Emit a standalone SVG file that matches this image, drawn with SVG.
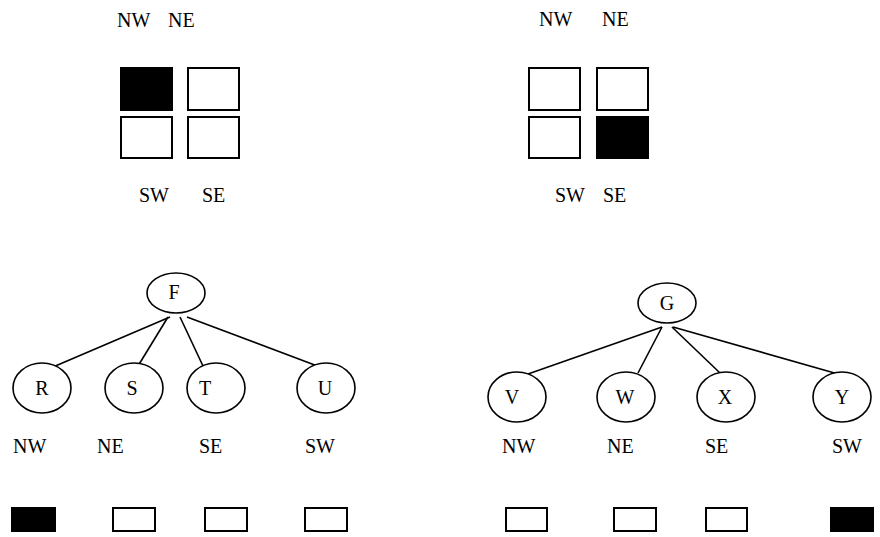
<svg xmlns="http://www.w3.org/2000/svg" width="880" height="537" viewBox="0 0 880 537">
<style>
text{font-family:"Liberation Serif","Times New Roman",serif;font-size:20px;fill:#000}
.c{text-anchor:middle}
.b{fill:#fff;stroke:#000;stroke-width:2}
.f{fill:#000;stroke:#000;stroke-width:2}
ellipse{fill:#fff;stroke:#000;stroke-width:1.6}
line{stroke:#000;stroke-width:1.6}
</style>
<rect width="880" height="537" fill="#fff"/>
<g id="quad-left">
<text x="117" y="27">NW</text><text x="168" y="27">NE</text>
<rect class="f" x="121" y="68" width="51" height="42"/>
<rect class="b" x="188" y="68" width="51" height="42"/>
<rect class="b" x="121" y="117" width="51" height="41"/>
<rect class="b" x="188" y="117" width="51" height="41"/>
<text x="139" y="202">SW</text><text x="202" y="202">SE</text>
</g>
<g id="quad-right">
<text x="539" y="26">NW</text><text x="602" y="26">NE</text>
<rect class="b" x="529" y="68" width="51" height="42"/>
<rect class="b" x="597" y="68" width="51" height="42"/>
<rect class="b" x="529" y="117" width="51" height="41"/>
<rect class="f" x="597" y="117" width="51" height="41"/>
<text x="555" y="202">SW</text><text x="603" y="202">SE</text>
</g>
<g id="connectors">
<line x1="170" y1="317" x2="53" y2="367"/>
<line x1="168" y1="317" x2="138" y2="366"/>
<line x1="180" y1="317" x2="203" y2="366"/>
<line x1="187" y1="317" x2="320" y2="367"/>
<line x1="662" y1="327" x2="528" y2="374"/>
<line x1="662" y1="327" x2="638" y2="373"/>
<line x1="672" y1="327" x2="720" y2="373"/>
<line x1="673" y1="327" x2="838" y2="374"/>
</g>
<g id="F"><ellipse cx="176" cy="293" rx="29" ry="20"/><text class="c" x="174" y="299">F</text></g>
<g id="R"><ellipse cx="42" cy="388" rx="29" ry="25"/><text class="c" x="42" y="395">R</text></g>
<g id="S"><ellipse cx="134" cy="388" rx="29" ry="25"/><text class="c" x="132" y="395">S</text></g>
<g id="T"><ellipse cx="216" cy="388" rx="29" ry="25"/><text class="c" x="205" y="395">T</text></g>
<g id="U"><ellipse cx="326" cy="388" rx="29" ry="25"/><text class="c" x="325" y="395">U</text></g>
<g id="G"><ellipse cx="667" cy="303" rx="29" ry="20"/><text class="c" x="667" y="310">G</text></g>
<g id="V"><ellipse cx="517" cy="397" rx="29" ry="25"/><text class="c" x="512" y="404">V</text></g>
<g id="W"><ellipse cx="626" cy="397" rx="29" ry="25"/><text class="c" x="625" y="404">W</text></g>
<g id="X"><ellipse cx="726" cy="397" rx="29" ry="25"/><text class="c" x="725" y="404">X</text></g>
<g id="Y"><ellipse cx="842" cy="397" rx="29" ry="25"/><text class="c" x="842" y="404">Y</text></g>
<g id="labels-left">
<text x="13" y="453">NW</text><text x="97" y="453">NE</text><text x="199" y="453">SE</text><text x="305" y="453">SW</text>
</g>
<g id="labels-right">
<text x="502" y="453">NW</text><text x="607" y="453">NE</text><text x="705" y="453">SE</text><text x="832" y="453">SW</text>
</g>
<g id="cells-left">
<rect class="f" x="12" y="508" width="43" height="23"/>
<rect class="b" x="113" y="508" width="42" height="23"/>
<rect class="b" x="205" y="508" width="42" height="23"/>
<rect class="b" x="305" y="508" width="42" height="23"/>
</g>
<g id="cells-right">
<rect class="b" x="506" y="508" width="41" height="23"/>
<rect class="b" x="614" y="508" width="42" height="23"/>
<rect class="b" x="706" y="508" width="41" height="23"/>
<rect class="f" x="831" y="508" width="42" height="23"/>
</g>
</svg>
